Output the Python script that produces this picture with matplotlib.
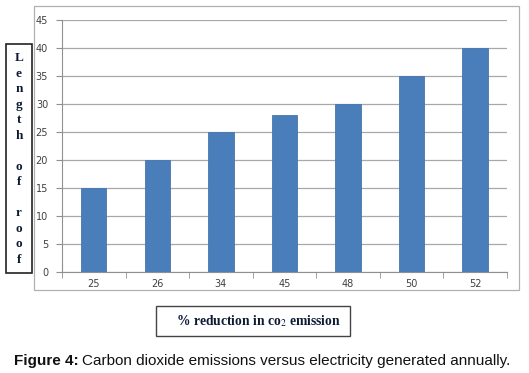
import matplotlib.pyplot as plt
from matplotlib.patches import Rectangle
import numpy as np

categories = ['25', '26', '34', '45', '48', '50', '52']
values = [15, 20, 25, 28, 30, 35, 40]
yticks = [0, 5, 10, 15, 20, 25, 30, 35, 40, 45]
ylabel_letters = ['L', 'e', 'n', 'g', 't', 'h', '', 'o', 'f', '', 'r', 'o', 'o', 'f']

W, H = 529, 373
fig = plt.figure(figsize=(W / 100, H / 100), dpi=100)

def px(x0, y0, x1, y1):
    return [x0 / W, 1 - y1 / H, (x1 - x0) / W, (y1 - y0) / H]

# outer chart frame
fig.patches.append(Rectangle((34 / W, 1 - 290 / H), (519 - 34) / W, (290 - 6) / H,
                             transform=fig.transFigure, fill=False,
                             edgecolor='#b0b0b0', linewidth=0.9))

ax = fig.add_axes(px(62, 20, 507, 272))
x = np.arange(len(categories))
ax.bar(x, values, width=0.4, color='#4A7EBB', edgecolor='#4676B0', linewidth=0.6, zorder=3)
ax.set_xlim(-0.5, len(categories) - 0.5)
ax.set_ylim(0, 45)
ax.set_yticks(yticks)
ax.set_yticklabels([str(t) for t in yticks])
ax.set_xticks(x)
ax.set_xticklabels(categories)
ax.set_xticks(np.arange(len(categories) + 1) - 0.5, minor=True)
ax.tick_params(axis='x', which='major', length=0, labelsize=7, colors='#404040', pad=5)
ax.tick_params(axis='x', which='minor', length=4, color='#909090', direction='out')
ax.tick_params(axis='y', length=4, color='#909090', labelsize=7, colors='#404040', pad=6)
ax.yaxis.grid(True, color='#a8a8a8', linewidth=0.9, zorder=0)
for s in ['top', 'right']:
    ax.spines[s].set_visible(False)
ax.spines['left'].set_color('#909090')
ax.spines['bottom'].set_color('#909090')

# y label box
fig.patches.append(Rectangle((6 / W, 1 - 273 / H), (32 - 6) / W, (273 - 44) / H,
                             transform=fig.transFigure, fill=False,
                             edgecolor='#222222', linewidth=1.2))
y0 = 58
step = (260 - 58) / (len(ylabel_letters) - 1)
for i, ch in enumerate(ylabel_letters):
    if ch:
        fig.text(19 / W, 1 - (y0 + i * step) / H, ch, ha='center', va='center',
                 fontsize=9.5, fontweight='bold', family='Liberation Serif', color='#0d1a33')

# x label box
fig.patches.append(Rectangle((156 / W, 1 - 336 / H), (350 - 156) / W, (336 - 306) / H,
                             transform=fig.transFigure, fill=False,
                             edgecolor='#444444', linewidth=1.0))
fig.text(258 / W, 1 - 321 / H, '% reduction in co$_2$ emission', ha='center', va='center',
         fontsize=9.8, fontweight='bold', family='Liberation Serif', color='#0d1a33',
         math_fontfamily='stix')

# caption
t1 = fig.text(14 / W, 1 - 361 / H, 'Figure 4:', ha='left', va='center', fontsize=11,
              fontweight='bold', family='Liberation Sans', color='#111111')
fig.canvas.draw()
bb = t1.get_window_extent()
fig.text((bb.x1 + 3) / W, 1 - 361 / H,
         'Carbon dioxide emissions versus electricity generated annually.',
         ha='left', va='center', fontsize=11, family='Liberation Sans', color='#111111')

fig.savefig('out.png', dpi=100)
